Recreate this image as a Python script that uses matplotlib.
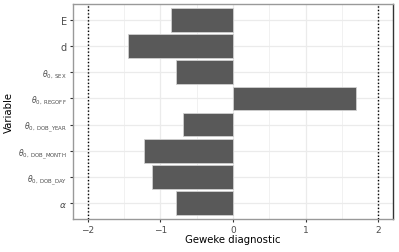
import matplotlib
matplotlib.use("Agg")
import matplotlib.pyplot as plt

plt.rcParams['mathtext.fontset'] = 'dejavusans'
plt.rcParams['font.family'] = ['DejaVu Sans']

labels = [r'$\alpha$',
          r'$\theta_{0,\ \mathrm{DOB\_DAY}}$',
          r'$\theta_{0,\ \mathrm{DOB\_MONTH}}$',
          r'$\theta_{0,\ \mathrm{DOB\_YEAR}}$',
          r'$\theta_{0,\ \mathrm{REGOFF}}$',
          r'$\theta_{0,\ \mathrm{SEX}}$',
          'd',
          'E']
values = [-0.78, -1.11, -1.22, -0.69, 1.69, -0.79, -1.45, -0.85]
thresholds = [-2, 2]
xticks = [-2, -1, 0, 1, 2]
xticklabels = ['\u22122', '\u22121', '0', '1', '2']

fig = plt.figure(figsize=(3.99, 2.53), dpi=100)
ax = fig.add_axes([73/399, 1 - 220/253, (393-73)/399, (220-5)/253])

pos = list(range(1, len(labels) + 1))
ax.barh(pos, values, height=0.9, color='#595959', edgecolor='#d0d0d0', linewidth=0.6, zorder=3)
for t in thresholds:
    ax.axvline(t, color='black', linestyle=(0, (1, 1.5)), linewidth=1.0, zorder=4)

ax.set_xlim(-2.2, 2.2)
ax.set_ylim(0.4, 8.6)
ax.set_yticks(pos)
ax.set_yticklabels(labels)
ax.set_xticks(xticks)
ax.set_xticklabels(xticklabels)
ax.set_xticks([-1.5, -0.5, 0.5, 1.5], minor=True)
ax.grid(True, which='major', color='#ebebeb', linewidth=0.9, zorder=0)
ax.grid(True, which='minor', axis='x', color='#ebebeb', linewidth=0.5, zorder=0)

ax.tick_params(axis='both', which='major', colors='#333333', length=2.5, width=0.8, pad=2)
ax.tick_params(axis='x', labelsize=6.5)
ax.tick_params(which='minor', length=0)
for lbl in ax.get_xticklabels():
    lbl.set_color('#4d4d4d')
for lbl in ax.get_yticklabels():
    lbl.set_color('#4d4d4d')
    if lbl.get_text().startswith('$\\theta'):
        lbl.set_fontsize(5.5)
    elif lbl.get_text().startswith('$\\alpha'):
        lbl.set_fontsize(6.5)
    else:
        lbl.set_fontsize(7)

for s in ['top', 'left', 'bottom']:
    ax.spines[s].set_color('#999999')
    ax.spines[s].set_linewidth(1.0)
ax.spines['right'].set_color('#333333')
ax.spines['right'].set_linewidth(1.0)

ax.set_xlabel('Geweke diagnostic', fontsize=7.3)
ax.set_ylabel('Variable', fontsize=7.3)
ax.xaxis.set_label_coords(0.5, -0.07)
ax.yaxis.set_label_coords(-0.184, 0.5)

fig.savefig('out.png', dpi=100)
